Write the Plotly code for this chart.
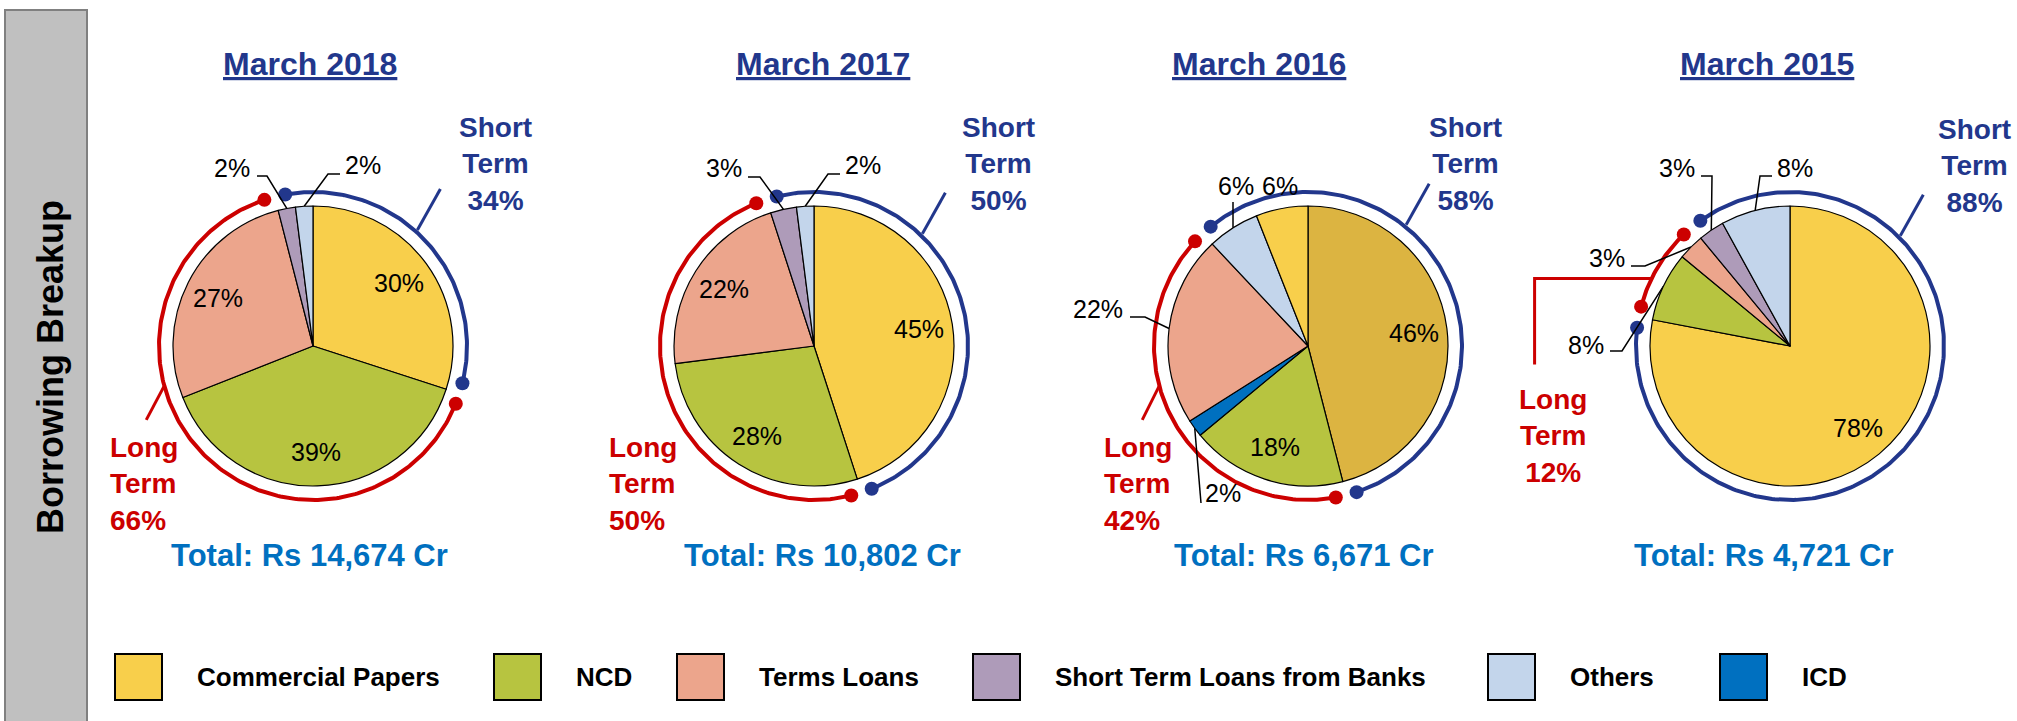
import math
import plotly.graph_objects as go

# ---------------- data ----------------
titles = ["March 2018", "March 2017", "March 2016", "March 2015"]
totals = ["Total: Rs 14,674 Cr", "Total: Rs 10,802 Cr", "Total: Rs 6,671 Cr", "Total: Rs 4,721 Cr"]
short_pct = [34, 50, 58, 88]
long_pct = [66, 50, 42, 12]

labels_2018 = ["Commercial Papers", "NCD", "Terms Loans", "Short Term Loans from Banks", "Others"]
values_2018 = [30, 39, 27, 2, 2]
labels_2017 = ["Commercial Papers", "NCD", "Terms Loans", "Short Term Loans from Banks", "Others"]
values_2017 = [45, 28, 22, 3, 2]
labels_2016 = ["Short Term Borrowings", "NCD", "ICD", "Terms Loans", "Others", "Commercial Papers"]
values_2016 = [46, 18, 2, 22, 6, 6]
labels_2015 = ["Commercial Papers", "NCD", "Terms Loans", "Short Term Loans from Banks", "Others"]
values_2015 = [78, 8, 3, 3, 8]

legend_labels = ["Commercial Papers", "NCD", "Terms Loans", "Short Term Loans from Banks", "Others", "ICD"]
long_term = {"NCD", "Terms Loans", "ICD"}

pies = [(labels_2018, values_2018), (labels_2017, values_2017),
        (labels_2016, values_2016), (labels_2015, values_2015)]

# ---------------- style / layout ----------------
colors = {
    "Commercial Papers": "#F8CF4B",
    "NCD": "#B7C440",
    "Terms Loans": "#ECA58C",
    "Short Term Loans from Banks": "#AE9BB9",
    "Others": "#C3D5EB",
    "ICD": "#0070C0",
    "Short Term Borrowings": "#DCB441",
}
NAVY = "#22378C"
RED = "#CC0000"
TOTAL_BLUE = "#0070C0"
FONT = "Arial, 'Liberation Sans', sans-serif"

W, H = 2017, 721
CY = 346
R = 140
RING = 154
GAP = 4
centers_x = [313, 814, 1308, 1790]
title_x = [310, 823, 1259, 1767]
total_x = [309, 822, 1304, 1764]

short_lbl = [(182, -182), (184, -182), (157, -182), (184, -180)]
short_ptr_angle = [42, 44, 39, 45]
long_lbl = [(-205, 138, "left"), (-207, 138, "left"), (-206, 138, "left"), (-237, 90, "center")]
long_ptr = [(255, [(-18, 34)]), None, (255, [(-17, 34)]), (296, [(-117, 0), (-117, 86)])]

# outside labels: slice index -> (text offset, leader points before slice edge)
outside = [
    {3: ((-81, -178), [(-56, -170), (-46, -170)]), 4: ((50, -181), [(27, -172), (15, -172)])},
    {3: ((-90, -178), [(-66, -169), (-54, -169)]), 4: ((49, -181), [(26, -172), (14, -172)])},
    {2: ((-85, 147), [(-107, 157)]), 3: ((-210, -37), [(-178, -29), (-163, -29)]),
     4: ((-72, -160), [(-75, -144)]), 5: ((-28, -160), [])},
    {1: ((-204, -1), [(-180, 5), (-168, 5)]), 2: ((-183, -88), [(-159, -80), (-145, -80)]),
     3: ((-113, -178), [(-89, -170), (-78, -170)]), 4: ((5, -178), [(-18, -170), (-30, -170)])},
]

legend_x = [115, 494, 677, 973, 1488, 1720]


def polar(cx, ang, r):
    a = math.radians(ang)
    return cx + r * math.sin(a), CY - r * math.cos(a)


fig = go.Figure()
annotations = []
shapes = []

for i, (labels, values) in enumerate(pies):
    cx = centers_x[i]
    fig.add_trace(go.Pie(
        labels=labels, values=values, sort=False, direction="clockwise", rotation=0,
        marker=dict(colors=[colors[l] for l in labels], line=dict(color="black", width=1.2)),
        textinfo="none", hoverinfo="label+percent", showlegend=False,
        domain=dict(x=[(cx - R) / W, (cx + R) / W], y=[1 - (CY + R) / H, 1 - (CY - R) / H]),
    ))

    cum = [0]
    for v in values:
        cum.append(cum[-1] + v)
    tot = cum[-1]
    is_long = [l in long_term for l in labels]
    first = is_long.index(True)
    last = len(is_long) - 1 - is_long[::-1].index(True)
    a0 = cum[first] / tot * 360
    a1 = cum[last + 1] / tot * 360

    # short / long arcs around the pie
    for start, end, col in [(a1 + GAP, a0 + 360 - GAP, NAVY), (a0 + GAP, a1 - GAP, RED)]:
        n = max(int(end - start), 2)
        angs = [start + (end - start) * k / n for k in range(n + 1)]
        pts = [polar(cx, a, RING) for a in angs]
        fig.add_trace(go.Scatter(x=[p[0] for p in pts], y=[p[1] for p in pts], mode="lines",
                                 line=dict(color=col, width=4), hoverinfo="skip", showlegend=False))
        fig.add_trace(go.Scatter(x=[pts[0][0], pts[-1][0]], y=[pts[0][1], pts[-1][1]], mode="markers",
                                 marker=dict(color=col, size=14), hoverinfo="skip", showlegend=False))

    # pointer lines to the Short / Long labels
    sx, sy = polar(cx, short_ptr_angle[i], RING + 2)
    fig.add_trace(go.Scatter(x=[sx, sx + 23], y=[sy, sy - 41], mode="lines",
                             line=dict(color=NAVY, width=3), hoverinfo="skip", showlegend=False))
    if long_ptr[i] is not None:
        ang, steps = long_ptr[i]
        lx, ly = polar(cx, ang, RING)
        fig.add_trace(go.Scatter(x=[lx] + [lx + d[0] for d in steps], y=[ly] + [ly + d[1] for d in steps],
                                 mode="lines", line=dict(color=RED, width=3),
                                 hoverinfo="skip", showlegend=False))

    annotations.append(dict(x=cx + short_lbl[i][0], y=CY + short_lbl[i][1],
                            text=f"Short<br>Term<br>{short_pct[i]}%", align="center",
                            font=dict(size=28, color=NAVY, weight="bold")))
    annotations.append(dict(x=cx + long_lbl[i][0], y=CY + long_lbl[i][1],
                            text=f"Long<br>Term<br>{long_pct[i]}%", align=long_lbl[i][2],
                            xanchor=long_lbl[i][2] if long_lbl[i][2] == "left" else "center",
                            font=dict(size=28, color=RED, weight="bold")))

    # percentage labels
    for k, v in enumerate(values):
        mid = (cum[k] + v / 2) / tot * 360
        if k in outside[i]:
            (tdx, tdy), leader = outside[i][k]
            annotations.append(dict(x=cx + tdx, y=CY + tdy, text=f"{v}%",
                                    font=dict(size=25, color="black")))
            if leader:
                ex, ey = polar(cx, mid, R)
                fig.add_trace(go.Scatter(x=[cx + p[0] for p in leader] + [ex],
                                         y=[CY + p[1] for p in leader] + [ey], mode="lines",
                                         line=dict(color="black", width=1.5),
                                         hoverinfo="skip", showlegend=False))
        else:
            px, py = polar(cx, mid, 0.76 * R)
            annotations.append(dict(x=px, y=py, text=f"{v}%", font=dict(size=25, color="black")))

    annotations.append(dict(x=title_x[i], y=64, text=titles[i],
                            font=dict(size=32, color=NAVY, weight="bold", lineposition="under")))
    annotations.append(dict(x=total_x[i], y=555, text=totals[i],
                            font=dict(size=31, color=TOTAL_BLUE, weight="bold")))

# side panel
shapes.append(dict(type="rect", xref="x", yref="y", x0=5, x1=87, y0=10, y1=730,
                   fillcolor="#C0C0C0", line=dict(color="#808080", width=2), layer="below"))
annotations.append(dict(x=50, y=367, text="Borrowing Breakup", textangle=-90,
                        font=dict(size=36, color="black", weight="bold")))

# legend
for k, lab in enumerate(legend_labels):
    x0 = legend_x[k]
    shapes.append(dict(type="rect", xref="x", yref="y", x0=x0, x1=x0 + 47, y0=654, y1=700,
                       fillcolor=colors[lab], line=dict(color="black", width=2)))
    annotations.append(dict(x=x0 + 80, y=677, text=lab, xanchor="left",
                            font=dict(size=26, color="black", weight="bold")))

for a in annotations:
    a.setdefault("xref", "x")
    a.setdefault("yref", "y")
    a.setdefault("showarrow", False)
    a.setdefault("xanchor", "center")
    a.setdefault("yanchor", "middle")
    a["font"].setdefault("family", FONT)

fig.update_layout(
    width=W, height=H,
    margin=dict(l=0, r=0, t=0, b=0),
    paper_bgcolor="white", plot_bgcolor="white",
    xaxis=dict(range=[0, W], visible=False, fixedrange=True),
    yaxis=dict(range=[H, 0], visible=False, fixedrange=True),
    annotations=annotations, shapes=shapes,
    showlegend=False,
    font=dict(family=FONT),
)

fig.write_html("out.html", config={"displayModeBar": False},
               post_script="document.body.style.margin='0px';")
